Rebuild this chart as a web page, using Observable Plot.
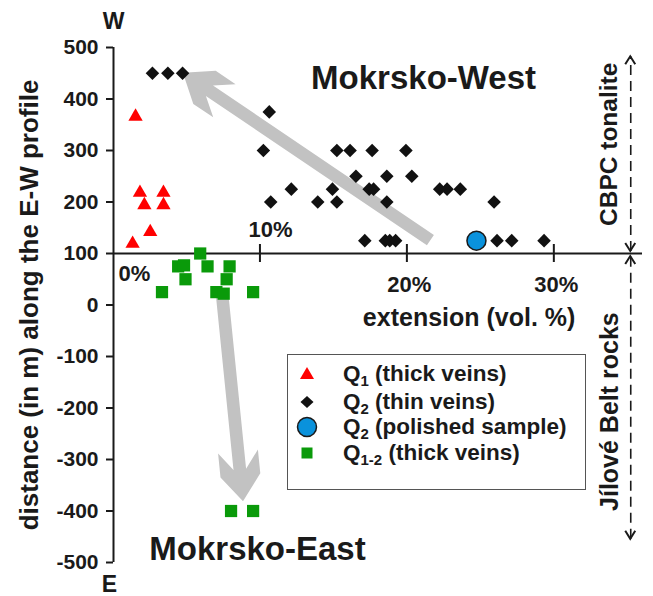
<!DOCTYPE html>
<html>
<head>
<meta charset="utf-8">
<script src="https://cdn.jsdelivr.net/npm/d3@7"></script>
<script src="https://cdn.jsdelivr.net/npm/@observablehq/plot@0.6"></script>
<style>
  body { margin: 0; background: #fff; }
  #wrap { position: relative; width: 653px; height: 596px; font-family: "Liberation Sans", Arial, sans-serif; font-weight: bold; color: #1a1a1a; }
  #legend { position: absolute; left: 287px; top: 354px; width: 297px; height: 134px; border: 1.5px solid #555; background: #fff; }
  .row { position: absolute; left: 0; height: 26px; width: 297px; }
  .row svg { position: absolute; left: 4px; top: 0; width: 30px; height: 26px; }
  .row .t { position: absolute; left: 55px; top: 0; height: 26px; line-height: 26px; font-size: 22.5px; white-space: nowrap; }
  .row sub { font-size: 15px; vertical-align: baseline; position: relative; top: 5px; line-height: 0; }
</style>
</head>
<body>
<div id="wrap"></div>
<script>
// ---------- data ----------
const q1X = [1.5, 1.8, 2.1, 3.4, 3.4, 2.5, 1.3];
const q1Y = [366, 218, 194, 218, 194, 142, 119];

const q2X = [2.65, 3.7, 4.7, 10.6, 10.2, 15.2, 16.1, 17.6, 19.9, 16.5, 18.6, 20.3,
             12.1, 14.9, 17.4, 17.7, 22.2, 22.7, 23.6, 10.7, 13.9, 15.2, 18.6, 25.9,
             17.1, 18.5, 18.8, 19.2, 26.1, 27.1, 29.3];
const q2Y = [450, 450, 450, 375, 300, 300, 300, 300, 300, 250, 250, 250,
             225, 225, 225, 225, 225, 225, 225, 200, 200, 200, 200, 200,
             125, 125, 125, 125, 125, 125, 125];

const polX = [24.7];
const polY = [125];

const q12X = [5.9, 4.4, 4.8, 6.4, 7.9, 4.9, 7.7, 3.3, 7.0, 7.5, 9.5, 8.0, 9.5];
const q12Y = [100, 75, 77, 75, 75, 50, 50, 25, 25, 22, 25, -400, -400];

const yTicks = [-500, -400, -300, -200, -100, 0, 100, 200, 300, 400, 500];
const xTicks = [10, 20, 30];
const xTickLabels = ["0%", "10%", "20%", "30%"];

const legendLabels = [
  ["Q", "1", " (thick veins)"],
  ["Q", "2", " (thin veins)"],
  ["Q", "2", " (polished sample)"],
  ["Q", "1-2", " (thick veins)"]
];

// annotation arrows (data coordinates)
const grayArrows = [
  {x1: 21.6, y1: 125, x2: 4.76, y2: 450},
  {x1: 7.4, y1: 26, x2: 8.85, y2: -382}
];
const zoneArrows = [
  {x: 35.2, lo: 104, hi: 482},
  {x: 35.2, lo: -455, hi: 94}
];

const INK = "#1a1a1a";
const FONT = "'Liberation Sans', Arial, sans-serif";

// custom mark: thick gray arrows
function grayArrowMark(index, scales) {
  const g = d3.create("svg:g");
  for (const a of grayArrows) {
    const X1 = scales.x(a.x1), Y1 = scales.y(a.y1), X2 = scales.x(a.x2), Y2 = scales.y(a.y2);
    const dx = X2 - X1, dy = Y2 - Y1, len = Math.hypot(dx, dy);
    const ux = dx / len, uy = dy / len, vx = -uy, vy = ux;
    const pt = (s, b) => [X2 - ux * s + vx * b, Y2 - uy * s + vy * b];
    const w = 6.3, H = 20;
    const pts = [pt(0, 0), pt(26, H), pt(50, H), pt(32, w), pt(len, w),
                 pt(len, -w), pt(32, -w), pt(50, -H), pt(26, -H)];
    g.append("path")
      .attr("d", "M" + pts.map(p => p[0].toFixed(1) + "," + p[1].toFixed(1)).join("L") + "Z")
      .attr("fill", "#c2c2c2");
  }
  return g.node();
}

// custom mark: x tick marks crossing the axis line at y=100 and zone arrowheads
function decoMark(index, scales) {
  const g = d3.create("svg:g");
  const y0 = scales.y(100);
  for (const t of xTicks) {
    const x = scales.x(t);
    g.append("line").attr("x1", x).attr("x2", x).attr("y1", y0 - 9).attr("y2", y0 + 9)
      .attr("stroke", INK).attr("stroke-width", 2);
  }
  for (const z of zoneArrows) {
    const x = scales.x(z.x);
    const yt = scales.y(z.hi), yb = scales.y(z.lo);
    g.append("path").attr("d", `M${x - 5},${yt + 8}L${x},${yt}L${x + 5},${yt + 8}`)
      .attr("fill", "none").attr("stroke", INK).attr("stroke-width", 2);
    g.append("path").attr("d", `M${x - 5},${yb - 8}L${x},${yb}L${x + 5},${yb - 8}`)
      .attr("fill", "none").attr("stroke", INK).attr("stroke-width", 2);
  }
  return g.node();
}

const plot = Plot.plot({
  width: 653,
  height: 596,
  marginLeft: 113,
  marginRight: 11,
  marginTop: 47,
  marginBottom: 34,
  x: {domain: [0, 36], axis: null},
  y: {domain: [-500, 500], axis: null},
  style: {fontFamily: FONT, fontWeight: "bold", fontSize: "20px", color: INK, background: "white", overflow: "visible"},
  marks: [
    grayArrowMark,
    // axes lines
    Plot.ruleX([0], {y1: -500, y2: 500, stroke: INK, strokeWidth: 2}),
    Plot.ruleY([100], {x1: 0, x2: 36, stroke: INK, strokeWidth: 2}),
    Plot.axisY(yTicks, {tickSize: 7, tickPadding: 8, tickFormat: d => String(d), fontSize: 21, fontWeight: "bold", strokeWidth: 2, label: null}),
    // dashed zone lines
    Plot.ruleX(zoneArrows, {x: "x", y1: "lo", y2: "hi", stroke: INK, strokeWidth: 1.6, strokeDasharray: "10,6"}),
    decoMark,
    // x tick labels
    Plot.text([xTickLabels[0]], {x: 0, y: 100, dx: 5, dy: 20, textAnchor: "start", fontSize: 22, fill: INK}),
    Plot.text([xTickLabels[1]], {x: 10, y: 100, dx: 10, dy: -24, fontSize: 22, fill: INK}),
    Plot.text(xTickLabels.slice(2), {x: xTicks.slice(1), y: 100, dx: 2, dy: 31, fontSize: 22, fill: INK}),
    // data
    Plot.dot(q1X, {x: q1X, y: q1Y, symbol: "triangle", r: 5.3, fill: "#ff0000", stroke: "none"}),
    Plot.dot(q2X, {x: q2X, y: q2Y, symbol: "diamond2", r: 6.1, fill: "#111111", stroke: "none"}),
    Plot.dot(polX, {x: polX, y: polY, symbol: "circle", r: 9.5, fill: "#0a92dc", stroke: "#1a1a1a", strokeWidth: 1.5}),
    Plot.dot(q12X, {x: q12X, y: q12Y, symbol: "square", r: 6.9, fill: "#0a9a0a", stroke: "none"}),
    // text annotations
    Plot.text(["W"], {x: 0, y: 500, dy: -26, fontSize: 23, fill: INK}),
    Plot.text(["E"], {x: 0, y: -500, dy: 22, dx: -4, fontSize: 23, fill: INK}),
    Plot.text(["Mokrsko-West"], {x: 21.1, y: 440, fontSize: 33, fill: INK}),
    Plot.text(["Mokrsko-East"], {x: 9.8, y: -475, fontSize: 33, fill: INK}),
    Plot.text(["extension (vol. %)"], {x: 24.2, y: -26, fontSize: 25, fill: INK}),
    Plot.text(["distance (in m) along the E-W profile"], {frameAnchor: "left", textAnchor: "middle", dx: -84, rotate: -90, fontSize: 26, fill: INK}),
    Plot.text(["CBPC tonalite"], {x: 33.7, y: 312, rotate: -90, fontSize: 24.5, fill: INK}),
    Plot.text(["Jílové Belt rocks"], {x: 33.8, y: -207, rotate: -90, fontSize: 25, fill: INK})
  ]
});

const wrap = document.getElementById("wrap");
wrap.appendChild(plot);

// legend (overlay)
const legend = document.createElement("div");
legend.id = "legend";
const rowCenters = [19, 47, 72, 98];
const symbols = [
  `<polygon points="15,6 22,18 8,18" fill="#ff0000"/>`,
  `<polygon points="15,7 21.5,13 15,19 8.5,13" fill="#111"/>`,
  `<circle cx="15" cy="13" r="9.5" fill="#0a92dc" stroke="#1a1a1a" stroke-width="1.5"/>`,
  `<rect x="9.5" y="7.5" width="11" height="11" fill="#0a9a0a"/>`
];
legendLabels.forEach((lab, i) => {
  const row = document.createElement("div");
  row.className = "row";
  row.style.top = (rowCenters[i] - 13) + "px";
  row.innerHTML = `<svg viewBox="0 0 30 26">${symbols[i]}</svg><div class="t">${lab[0]}<sub>${lab[1]}</sub>${lab[2]}</div>`;
  legend.appendChild(row);
});
wrap.appendChild(legend);
</script>
</body>
</html>
